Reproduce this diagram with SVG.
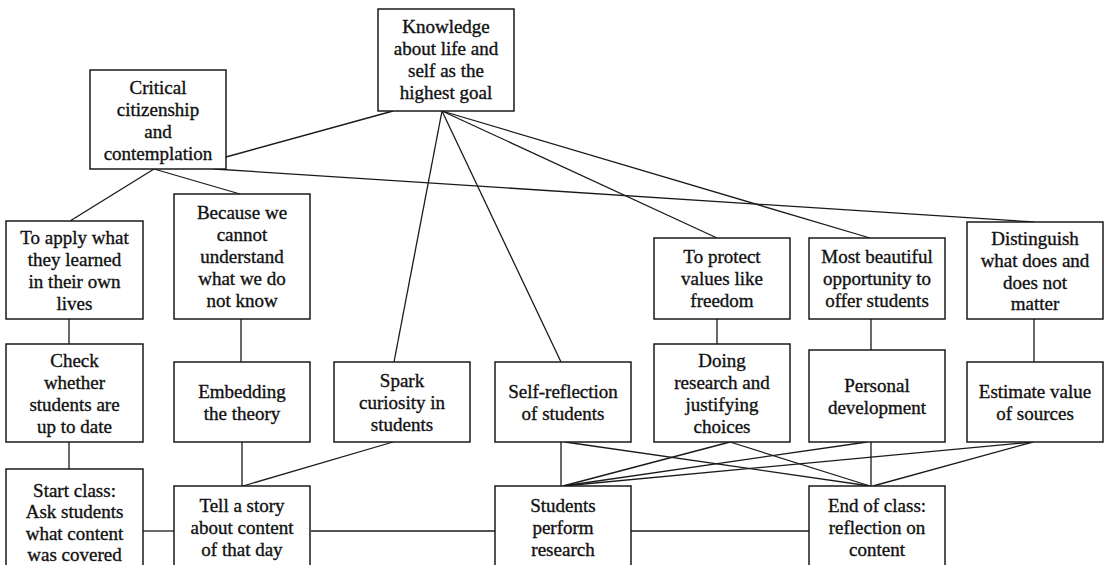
<svg xmlns="http://www.w3.org/2000/svg" width="1106" height="565" viewBox="0 0 1106 565">
<style>
rect.b{fill:#fff;stroke:#1a1a1a;stroke-width:1.5}
text{font-family:"Liberation Serif","Times New Roman",serif;font-size:19px;fill:#111;stroke:#111;stroke-width:0.35;text-anchor:middle}
#edges line{stroke:#1a1a1a;stroke-width:1.3}
</style>
<rect width="1106" height="565" fill="#fff"/>
<g id="edges">
<line x1="226" y1="157" x2="393" y2="111"/>
<line x1="154" y1="169" x2="70" y2="221"/>
<line x1="154" y1="169" x2="240" y2="194"/>
<line x1="214" y1="169" x2="1034" y2="222"/>
<line x1="442" y1="111" x2="394" y2="362"/>
<line x1="442" y1="111" x2="561" y2="362"/>
<line x1="442" y1="111" x2="717" y2="238"/>
<line x1="442" y1="111" x2="870" y2="238"/>
<line x1="69" y1="319" x2="69" y2="344"/>
<line x1="241" y1="319" x2="241" y2="362"/>
<line x1="717" y1="319" x2="717" y2="344"/>
<line x1="871" y1="319" x2="871" y2="350"/>
<line x1="1034" y1="319" x2="1034" y2="362"/>
<line x1="69" y1="442" x2="69" y2="469"/>
<line x1="242" y1="442" x2="242" y2="486"/>
<line x1="393" y1="442" x2="243" y2="486"/>
<line x1="143" y1="531" x2="174" y2="531"/>
<line x1="311" y1="531" x2="495" y2="531"/>
<line x1="631" y1="531" x2="809" y2="531"/>
<line x1="561" y1="442" x2="561" y2="486"/>
<line x1="565" y1="442" x2="870" y2="486"/>
<line x1="730" y1="442" x2="563" y2="486"/>
<line x1="730" y1="442" x2="870" y2="486"/>
<line x1="871" y1="442" x2="871" y2="486"/>
<line x1="867" y1="442" x2="563" y2="486"/>
<line x1="1033" y1="442" x2="563" y2="486"/>
<line x1="1033" y1="442" x2="873" y2="486"/>
</g>
<g id="n-knowledge"><rect class="b" x="378" y="9" width="136" height="102"/>
<text x="446" y="32.5">Knowledge</text><text x="446" y="54.5">about life and</text><text x="446" y="76.5">self as the</text><text x="446" y="98.5">highest goal</text></g>
<g id="n-critical"><rect class="b" x="90" y="70" width="136" height="99"/>
<text x="158" y="93.5">Critical</text><text x="158" y="115.5">citizenship</text><text x="158" y="137.5">and</text><text x="158" y="159.5">contemplation</text></g>
<g id="n-apply"><rect class="b" x="6" y="221" width="137" height="98"/>
<text x="74.5" y="244">To apply what</text><text x="74.5" y="266">they learned</text><text x="74.5" y="288">in their own</text><text x="74.5" y="310">lives</text></g>
<g id="n-because"><rect class="b" x="174" y="194" width="136" height="125"/>
<text x="242" y="219">Because we</text><text x="242" y="241">cannot</text><text x="242" y="263">understand</text><text x="242" y="285">what we do</text><text x="242" y="307">not know</text></g>
<g id="n-protect"><rect class="b" x="654" y="238" width="136" height="81"/>
<text x="722" y="263">To protect</text><text x="722" y="285">values like</text><text x="722" y="307">freedom</text></g>
<g id="n-beautiful"><rect class="b" x="809" y="238" width="136" height="81"/>
<text x="877" y="263">Most beautiful</text><text x="877" y="285">opportunity to</text><text x="877" y="307">offer students</text></g>
<g id="n-distinguish"><rect class="b" x="967" y="222" width="136" height="97"/>
<text x="1035" y="244.5">Distinguish</text><text x="1035" y="266.5">what does and</text><text x="1035" y="288.5">does not</text><text x="1035" y="310">matter</text></g>
<g id="n-check"><rect class="b" x="6" y="344" width="137" height="98"/>
<text x="74.5" y="367">Check</text><text x="74.5" y="389">whether</text><text x="74.5" y="411">students are</text><text x="74.5" y="433">up to date</text></g>
<g id="n-embedding"><rect class="b" x="174" y="362" width="136" height="80"/>
<text x="242" y="397.5">Embedding</text><text x="242" y="419.5">the theory</text></g>
<g id="n-spark"><rect class="b" x="334" y="362" width="136" height="80"/>
<text x="402" y="386.5">Spark</text><text x="402" y="408.5">curiosity in</text><text x="402" y="430.5">students</text></g>
<g id="n-selfreflection"><rect class="b" x="495" y="362" width="136" height="80"/>
<text x="563" y="397.5">Self-reflection</text><text x="563" y="419.5">of students</text></g>
<g id="n-doing"><rect class="b" x="654" y="344" width="136" height="98"/>
<text x="722" y="367">Doing</text><text x="722" y="389">research and</text><text x="722" y="411">justifying</text><text x="722" y="433">choices</text></g>
<g id="n-personal"><rect class="b" x="809" y="350" width="136" height="92"/>
<text x="877" y="391.5">Personal</text><text x="877" y="413.5">development</text></g>
<g id="n-estimate"><rect class="b" x="967" y="362" width="136" height="80"/>
<text x="1035" y="397.5">Estimate value</text><text x="1035" y="419.5">of sources</text></g>
<g id="n-start"><rect class="b" x="6" y="469" width="137" height="110"/>
<text x="74.5" y="496.5">Start class:</text><text x="74.5" y="518">Ask students</text><text x="74.5" y="539.5">what content</text><text x="74.5" y="561">was covered</text></g>
<g id="n-story"><rect class="b" x="174" y="486" width="136" height="90"/>
<text x="242" y="511.5">Tell a story</text><text x="242" y="533.5">about content</text><text x="242" y="555.5">of that day</text></g>
<g id="n-students"><rect class="b" x="495" y="486" width="136" height="90"/>
<text x="563" y="511.5">Students</text><text x="563" y="533.5">perform</text><text x="563" y="555.5">research</text></g>
<g id="n-end"><rect class="b" x="809" y="486" width="136" height="90"/>
<text x="877" y="511.5">End of class:</text><text x="877" y="533.5">reflection on</text><text x="877" y="555.5">content</text></g>
</svg>
